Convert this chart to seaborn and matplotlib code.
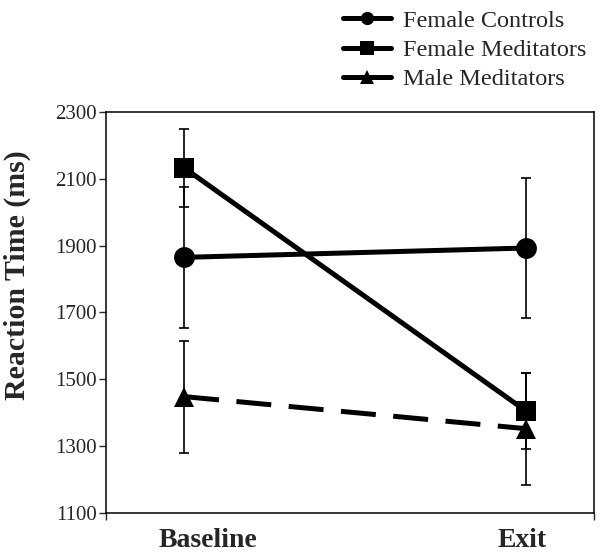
import matplotlib
matplotlib.use("Agg")
import matplotlib.pyplot as plt
from matplotlib.lines import Line2D
import numpy as np
import pandas as pd
import seaborn as sns

phases = ["Baseline", "Exit"]
groups = ["Female Controls", "Female Meditators", "Male Meditators"]
female_controls = [1865, 1893]
female_controls_err = [211, 210]
female_meditators = [2133, 1405]
female_meditators_err = [116, 115]
male_meditators = [1448, 1352]
male_meditators_err = [168, 168]

means = [female_controls, female_meditators, male_meditators]
errs = [female_controls_err, female_meditators_err, male_meditators_err]

rows = []
for g, m in zip(groups, means):
    for p, v in zip(phases, m):
        rows.append({"group": g, "phase": p, "rt": v})
df = pd.DataFrame(rows)

sns.set_style("white")
plt.rcParams['font.family'] = ['Liberation Serif', 'DejaVu Serif']

fig = plt.figure(figsize=(6, 5.55), dpi=100)
ax = fig.add_axes([0.177, 0.076, 0.813, 0.722])

markers = {"Female Controls": "o", "Female Meditators": "s", "Male Meditators": "^"}
dashes = {"Female Controls": "", "Female Meditators": "", "Male Meditators": (7, 3.5)}

sns.lineplot(data=df, x="phase", y="rt", hue="group", style="group",
             markers=markers, dashes=dashes, palette=["black"] * 3,
             linewidth=3.6, markersize=15, markeredgewidth=0, legend=False, ax=ax)

xpos = np.arange(len(phases))
for m, e in zip(means, errs):
    ax.errorbar(xpos, m, yerr=e, fmt="none", ecolor="black", elinewidth=1.2,
                capsize=3.6, capthick=1.2, zorder=1)

ax.set_xlim(-0.228, 1.199)
ax.set_ylim(1100, 2300)
ax.set_yticks(np.arange(1100, 2301, 200))
# category labels sit a little right of the points, as in the original
ax.set_xticks([0.07, 0.99])
ax.set_xticklabels(phases, fontsize=20, fontweight="bold")
ax.tick_params(axis="x", length=0, pad=11)
ax.set_xticks([-0.228, 1.199], minor=True)
ax.tick_params(axis="x", which="minor", length=5, width=1, direction="out", bottom=True)
ax.tick_params(axis="y", labelsize=15, length=5, width=1, direction="out", left=True, pad=2)
ax.set_xlabel("")
ax.set_ylabel("Reaction Time (ms)", fontsize=21.5, fontweight="bold")
ax.yaxis.set_label_coords(-0.155, 0.593)
for s in ax.spines.values():
    s.set_color("black")
    s.set_linewidth(1.1)

handles = [Line2D([], [], color="black", lw=3.6, marker=markers[g], markersize=9.5,
                  markeredgewidth=0) for g in groups]
fig.legend(handles, groups, loc="upper left", bbox_to_anchor=(0.555, 1.0),
           frameon=False, fontsize=17.5, handlelength=2.0, handletextpad=0.5,
           labelspacing=0.3, borderaxespad=0)

fig.savefig("out.png", dpi=100)
